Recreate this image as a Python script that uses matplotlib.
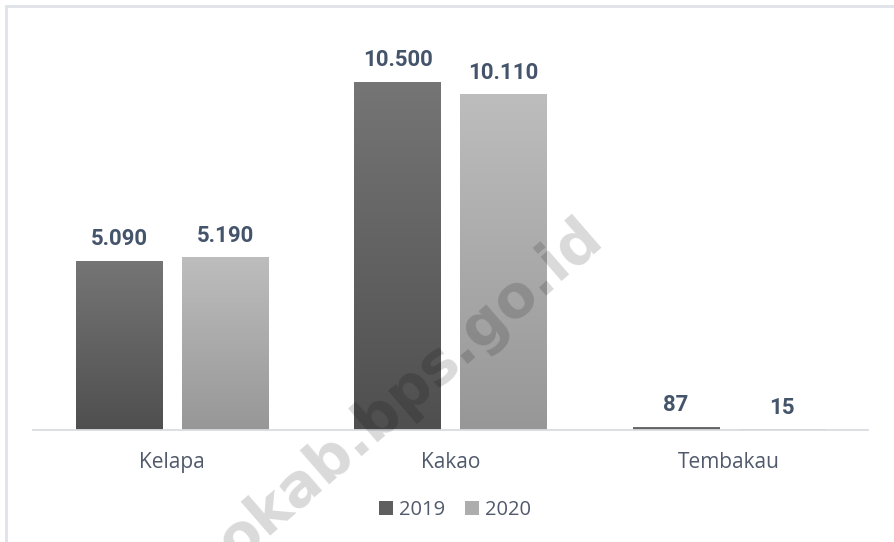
import numpy as np
import matplotlib
matplotlib.use('Agg')
import matplotlib.pyplot as plt
from matplotlib.colors import LinearSegmentedColormap
from matplotlib.patches import Rectangle, Patch

# data
categories = ['Kelapa', 'Kakao', 'Tembakau']
years = ['2019', '2020']
val_2019 = [5090, 10500, 87]
val_2020 = [5190, 10110, 15]

# gradient colours per series (bottom, top)
grad_colors = {'2019': ('#4f4f4f', '#757575'), '2020': ('#979797', '#bdbdbd')}
label_color = '#44546A'
text_color = '#505a6b'

fig = plt.figure(figsize=(8.94, 5.42), dpi=100)
ax = fig.add_axes([33 / 894, 112 / 542, 835 / 894, 410 / 542])

x = np.arange(len(categories))
width = 0.31
offset = 0.19

grad = np.linspace(0, 1, 256).reshape(-1, 1)
for vals, yr, sgn in [(val_2019, '2019', -1), (val_2020, '2020', 1)]:
    bars = ax.bar(x + sgn * offset, vals, width, color='none', edgecolor='none', zorder=2)
    cmap = LinearSegmentedColormap.from_list('g' + yr, list(grad_colors[yr]))
    for b, v in zip(bars, vals):
        x0, y0 = b.get_x(), b.get_y()
        w, h = b.get_width(), b.get_height()
        ax.imshow(grad, extent=[x0, x0 + w, y0, y0 + h], origin='lower',
                  cmap=cmap, aspect='auto', zorder=2)
        ax.annotate(f'{v:,}'.replace(',', '.'), (x0 + w / 2, h),
                    xytext=(0, 11.5), textcoords='offset points',
                    ha='center', va='baseline', fontsize=16,
                    fontfamily='Roboto', fontweight='bold', color=label_color)

ax.set_xlim(-0.5, 2.5)
ax.set_ylim(0, 10500 * 410 / 348)
ax.set_yticks([])
ax.set_xticks(x)
ax.set_xticklabels(categories, fontsize=15, fontfamily='Open Sans', color=text_color)
ax.tick_params(axis='x', length=0, pad=16)
for s in ['top', 'right', 'left']:
    ax.spines[s].set_visible(False)
ax.spines['bottom'].set_color('#d9dde3')
ax.spines['bottom'].set_linewidth(1.3)

handles = [Patch(facecolor='#5f5f5f', label='2019'),
           Patch(facecolor='#adadad', label='2020')]
leg = fig.legend(handles=handles, loc='center', bbox_to_anchor=(0.509, 0.059),
                 ncol=2, frameon=False, handlelength=0.7, handleheight=0.7,
                 handletextpad=0.3, columnspacing=1.0,
                 prop={'family': 'Open Sans', 'size': 14.5})
for t in leg.get_texts():
    t.set_color(text_color)

# outer border of the chart area
fig.patches.append(Rectangle((6 / 894, -0.1), 1.2, 1.1 - 6 / 542,
                             transform=fig.transFigure, fill=False,
                             edgecolor='#dfe2e8', linewidth=2))

# watermark
fig.text(410 / 894, 1 - 390 / 542, 'okab.bps.go.id', rotation=41,
         ha='center', va='center', fontsize=42, fontweight='heavy',
         fontfamily='DejaVu Sans', color='black', alpha=0.15, zorder=10)

fig.savefig('out.png', dpi=100)
